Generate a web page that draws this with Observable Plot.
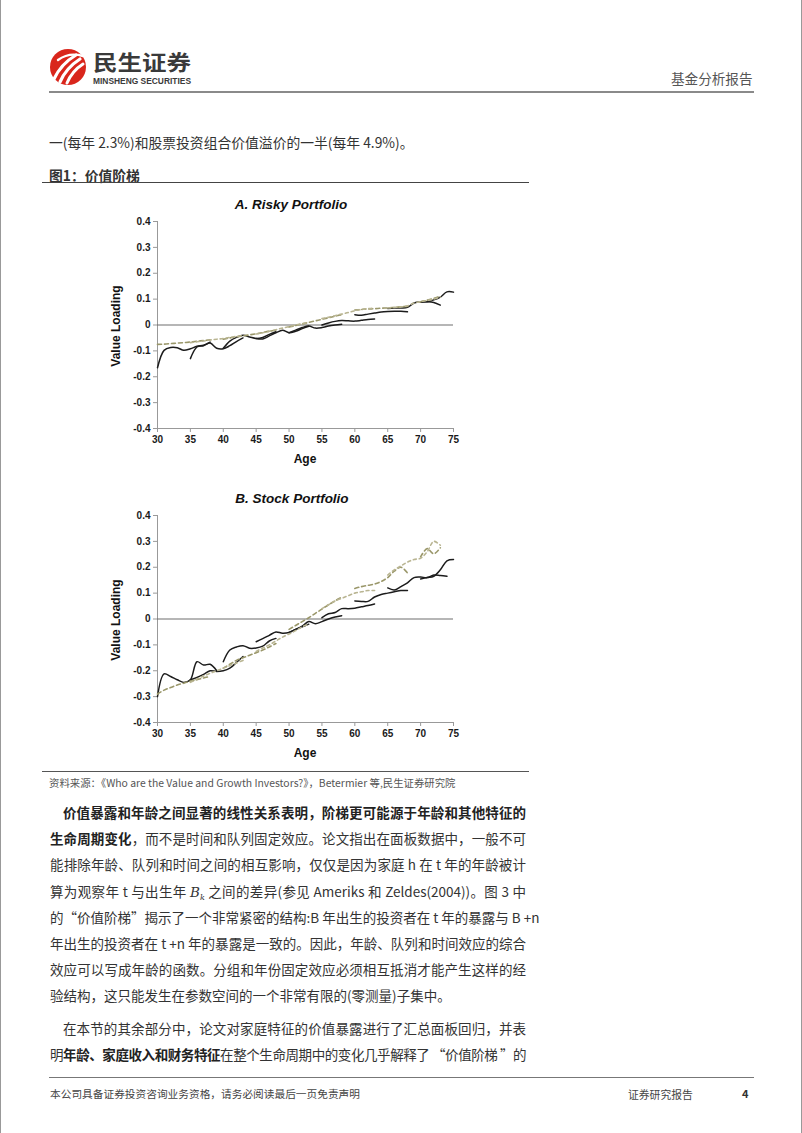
<!DOCTYPE html>
<html><head><meta charset="utf-8">
<script src="https://cdn.jsdelivr.net/npm/d3@7"></script>
<script src="https://cdn.jsdelivr.net/npm/@observablehq/plot@0.6"></script>
<style>
html,body{margin:0;padding:0;background:#fff;}
#page{position:relative;width:802px;height:1133px;overflow:hidden;background:#fff;box-sizing:border-box;border-left:1px solid #999;border-right:1px solid #999;font-family:"Noto Sans CJK SC","Noto Sans",sans-serif;color:#333;}
.abs{position:absolute;white-space:nowrap;}
.hr{position:absolute;height:0;}
.ctitle{position:absolute;font-family:"Liberation Sans",Arial,sans-serif;font-weight:bold;font-style:italic;font-size:13.5px;color:#111;transform:translate(-50%,-50%);white-space:nowrap;}
.xlab{position:absolute;font-family:"Liberation Sans",Arial,sans-serif;font-weight:bold;font-size:12px;color:#111;transform:translate(-50%,-50%);}
.ylab{position:absolute;font-family:"Liberation Sans",Arial,sans-serif;font-weight:bold;font-size:12px;color:#111;transform:translate(-50%,-50%) rotate(-90deg);white-space:nowrap;}
.chart{position:absolute;}
#body{position:absolute;left:49px;top:799px;width:476px;font-size:13.5px;line-height:26.2px;color:#333;}
#body .ln{height:26.2px;text-align:justify;text-align-last:justify;white-space:nowrap;}
#body .last{text-align:left;text-align-last:left;}
#body .ind{text-indent:13px;}
#body .p2{margin-top:6px;}
#body .tight{letter-spacing:-0.6px;}
#body b{font-weight:bold;color:#222;}
.bk{font-family:'DejaVu Serif',serif;font-style:italic;line-height:0;}
.bk sub{font-size:8px;line-height:0;vertical-align:baseline;position:relative;top:3px;}
</style></head>
<body><div id="page">
<!-- header -->
<svg class="abs" style="left:48px;top:46px" width="150" height="44" viewBox="0 0 150 44">
  <circle cx="19" cy="21" r="18" fill="#d9261c"/>
  <path d="M5 33 Q12 18 27 9" stroke="#fff" stroke-width="3.2" fill="none" stroke-linecap="round"/>
  <path d="M11 36 Q17 22 31 13" stroke="#fff" stroke-width="3.2" fill="none" stroke-linecap="round"/>
  <path d="M18 37 Q23 25 34 18" stroke="#fff" stroke-width="3" fill="none" stroke-linecap="round"/>
  <path d="M9 14 Q20 6 34 10" stroke="#fff" stroke-width="2.4" fill="none" stroke-linecap="round"/>
  <text x="44" y="24" font-family="Noto Sans CJK SC" font-weight="bold" font-size="21" fill="#3a3a3a" textLength="98" lengthAdjust="spacingAndGlyphs">民生证券</text>
  <text x="44" y="37.5" font-family="Liberation Sans Narrow, Liberation Sans" font-weight="bold" font-size="8.8" fill="#3a3a3a" textLength="98" lengthAdjust="spacingAndGlyphs">MINSHENG SECURITIES</text>
</svg>
<div class="abs" style="left:670px;top:68px;font-size:13.6px;color:#555;">基金分析报告</div>
<div class="hr" style="left:48px;top:91px;width:705px;border-top:2px solid #8a8a8a;"></div>

<div class="abs" style="left:48px;top:132px;font-size:13.8px;color:#333;">一(每年 2.3%)和股票投资组合价值溢价的一半(每年 4.9%)。</div>
<div class="abs" style="left:48px;top:165px;font-size:13.8px;font-weight:bold;color:#333;">图1：价值阶梯</div>
<div class="hr" style="left:41px;top:182px;width:487px;border-top:1.5px solid #444;"></div>

<div class="ctitle" style="left:290px;top:204px;">A. Risky Portfolio</div>
<div class="ylab" style="left:115px;top:326px;">Value Loading</div>
<div class="xlab" style="left:304px;top:459px;">Age</div>
<div class="chart" id="chartA" style="left:40px;top:210px;"></div>

<div class="ctitle" style="left:291px;top:498px;">B. Stock Portfolio</div>
<div class="ylab" style="left:115px;top:620px;">Value Loading</div>
<div class="xlab" style="left:304px;top:753px;">Age</div>
<div class="chart" id="chartB" style="left:40px;top:504px;"></div>

<div class="hr" style="left:41px;top:771px;width:487px;border-top:1.5px solid #555;"></div>
<div class="abs" style="left:48px;top:775px;font-size:10.4px;color:#555;">资料来源：《Who are the Value and Growth Investors?》，Betermier 等,民生证券研究院</div>

<div id="body">
<div class="ln ind"><b>价值暴露和年龄之间显著的线性关系表明，阶梯更可能源于年龄和其他特征的</b></div>
<div class="ln"><b>生命周期变化</b>，而不是时间和队列固定效应。论文指出在面板数据中，一般不可</div>
<div class="ln">能排除年龄、队列和时间之间的相互影响，仅仅是因为家庭 h 在 t 年的年龄被计</div>
<div class="ln">算为观察年 t 与出生年 <span class="bk">B<sub>k</sub></span> 之间的差异(参见 Ameriks 和 Zeldes(2004))。图 3 中</div>
<div class="ln">的“价值阶梯”揭示了一个非常紧密的结构:B 年出生的投资者在 t 年的暴露与 B +n</div>
<div class="ln">年出生的投资者在 t +n 年的暴露是一致的。因此，年龄、队列和时间效应的综合</div>
<div class="ln">效应可以写成年龄的函数。分组和年份固定效应必须相互抵消才能产生这样的经</div>
<div class="ln last">验结构，这只能发生在参数空间的一个非常有限的(零测量)子集中。</div>
<div class="ln ind p2">在本节的其余部分中，论文对家庭特征的价值暴露进行了汇总面板回归，并表</div>
<div class="ln tight">明<b>年龄、家庭收入和财务特征</b>在整个生命周期中的变化几乎解释了 “价值阶梯 ”的</div>
</div>

<div class="hr" style="left:48px;top:1077px;width:705px;border-top:1.5px solid #777;"></div>
<div class="abs" style="left:49px;top:1086px;font-size:10.7px;color:#444;">本公司具备证券投资咨询业务资格，请务必阅读最后一页免责声明</div>
<div class="abs" style="left:627px;top:1086px;font-size:10.8px;color:#444;">证券研究报告</div>
<div class="abs" style="left:741px;top:1085px;font-size:11px;font-weight:bold;color:#333;">4</div>
</div>

<script>
// ---- data ----
const xTicks = [30, 35, 40, 45, 50, 55, 60, 65, 70, 75];
const yTicks = [-0.4, -0.3, -0.2, -0.1, 0, 0.1, 0.2, 0.3, 0.4];

// Panel A: Risky portfolio — observed cohort paths (start age, yearly values)
const riskyObserved = [
  {start: 30, v: [-0.165, -0.098, -0.087, -0.088, -0.098, -0.092, -0.082, -0.078, -0.066]},
  {start: 35, v: [-0.13, -0.085, -0.08, -0.07, -0.09, -0.092, -0.08, -0.064, -0.05]},
  {start: 40, v: [-0.09, -0.062, -0.048, -0.04, -0.046, -0.052, -0.048, -0.036, -0.026]},
  {start: 45, v: [-0.052, -0.054, -0.042, -0.03, -0.02, -0.03, -0.024, -0.014, -0.005]},
  {start: 50, v: [-0.03, -0.02, -0.01, -0.004, -0.012, -0.01, -0.004, 0.0, 0.003]},
  {start: 55, v: [0.0, 0.008, 0.014, 0.017, 0.016, 0.015, 0.018, 0.021, 0.023]},
  {start: 60, v: [0.04, 0.038, 0.042, 0.046, 0.05, 0.052, 0.053, 0.053, 0.051]},
  {start: 65, v: [0.064, 0.066, 0.066, 0.068, 0.085, 0.09, 0.09, 0.087, 0.077]},
  {start: 70, v: [0.088, 0.09, 0.097, 0.108, 0.128, 0.127]}
];
// Panel A: fitted (dashed) cohort paths
const riskyFitted = [
  {start: 30, v: [-0.075, -0.074, -0.072, -0.07, -0.068, -0.066, -0.063, -0.06, -0.057]},
  {start: 35, v: [-0.068, -0.065, -0.062, -0.058, -0.055, -0.052, -0.048, -0.044, -0.04]},
  {start: 40, v: [-0.055, -0.05, -0.046, -0.042, -0.038, -0.034, -0.029, -0.024, -0.02]},
  {start: 45, v: [-0.035, -0.03, -0.024, -0.018, -0.012, -0.006, 0.0, 0.005, 0.01]},
  {start: 50, v: [-0.008, -0.002, 0.004, 0.01, 0.016, 0.022, 0.028, 0.034, 0.04]},
  {start: 55, v: [0.025, 0.03, 0.036, 0.042, 0.048, 0.055, 0.06, 0.063, 0.065]},
  {start: 60, v: [0.058, 0.06, 0.062, 0.063, 0.065, 0.066, 0.068, 0.07, 0.072]},
  {start: 65, v: [0.066, 0.068, 0.07, 0.074, 0.085, 0.09, 0.095, 0.1, 0.108]},
  {start: 70, v: [0.09, 0.096, 0.103, 0.112]}
];

// Panel B: Stock portfolio — observed cohort paths
const stockObserved = [
  {start: 30, v: [-0.30, -0.212, -0.222, -0.235, -0.245, -0.235, -0.165, -0.178, -0.175, -0.2]},
  {start: 35, v: [-0.235, -0.226, -0.214, -0.2, -0.203, -0.2, -0.19, -0.168, -0.145]},
  {start: 40, v: [-0.165, -0.12, -0.108, -0.103, -0.113, -0.112, -0.105, -0.085, -0.075]},
  {start: 45, v: [-0.088, -0.076, -0.063, -0.05, -0.055, -0.052, -0.04, -0.03, -0.02]},
  {start: 50, v: [-0.052, -0.04, -0.028, -0.01, -0.018, -0.01, 0.0, 0.008, 0.013]},
  {start: 55, v: [0.005, 0.02, 0.025, 0.04, 0.04, 0.042, 0.047, 0.052, 0.058]},
  {start: 60, v: [0.07, 0.068, 0.068, 0.085, 0.095, 0.1, 0.105, 0.11, 0.11]},
  {start: 65, v: [0.12, 0.112, 0.125, 0.14, 0.16, 0.162, 0.16, 0.17, 0.168, 0.165]},
  {start: 70, v: [0.155, 0.16, 0.165, 0.19, 0.225, 0.23]}
];
// Panel B: fitted (dashed) cohort paths
const stockFitted = [
  {start: 30, v: [-0.29, -0.275, -0.265, -0.255, -0.248, -0.24, -0.235, -0.228, -0.222]},
  {start: 35, v: [-0.245, -0.232, -0.22, -0.21, -0.2, -0.19, -0.18, -0.17, -0.16]},
  {start: 40, v: [-0.19, -0.175, -0.16, -0.15, -0.14, -0.13, -0.12, -0.108, -0.095]},
  {start: 45, v: [-0.125, -0.112, -0.1, -0.085, -0.07, -0.058, -0.045, -0.03, -0.02]},
  {start: 50, v: [-0.04, -0.025, -0.01, 0.005, 0.022, 0.038, 0.055, 0.07, 0.085]},
  {start: 55, v: [0.04, 0.055, 0.07, 0.08, 0.09, 0.1, 0.105, 0.11, 0.11]},
  {start: 60, v: [0.118, 0.125, 0.13, 0.135, 0.145, 0.16, 0.185, 0.2, 0.178]},
  {start: 65, v: [0.17, 0.19, 0.205, 0.22, 0.23, 0.235, 0.26, 0.3, 0.285]},
  {start: 70, v: [0.24, 0.272, 0.252, 0.275]}
];

function rows(segs) {
  return segs.flatMap((s, i) => s.v.map((v, j) => ({age: s.start + j, value: v, seg: i})));
}

function chart(observed, fitted) {
  return Plot.plot({
    width: 490, height: 262,
    marginTop: 11, marginBottom: 44, marginLeft: 116, marginRight: 78,
    x: {domain: [30, 75]},
    y: {domain: [-0.4, 0.4]},
    style: {fontFamily: "'Liberation Sans', Arial, sans-serif", fontSize: "10px", fontWeight: "bold", color: "#1a1a1a", background: "transparent", overflow: "visible"},
    marks: [
      Plot.axisX({ticks: xTicks, tickSize: 4, tickPadding: 3, stroke: "#999", fill: "#1a1a1a", label: null, tickFormat: d => String(d)}),
      Plot.axisY({ticks: yTicks, tickSize: 4, tickPadding: 3, stroke: "#999", fill: "#1a1a1a", label: null, tickFormat: d => String(d)}),
      Plot.ruleX([30], {stroke: "#999", strokeWidth: 1}),
      Plot.ruleY([-0.4], {stroke: "#999", strokeWidth: 1}),
      Plot.ruleY([0], {stroke: "#6f6f6f", strokeWidth: 1.2}),
      Plot.line(rows(observed), {x: "age", y: "value", z: "seg", stroke: "#1c1c1c", strokeWidth: 1.5, curve: "catmull-rom"}),
      Plot.line(rows(fitted).filter(d => d.seg % 2 === 0), {x: "age", y: "value", z: "seg", stroke: "#9a976a", strokeWidth: 1.6, strokeDasharray: "4,3", curve: "catmull-rom"}),
      Plot.line(rows(fitted).filter(d => d.seg % 2 === 1), {x: "age", y: "value", z: "seg", stroke: "#b9b592", strokeWidth: 1.6, strokeDasharray: "3,3", curve: "catmull-rom"})
    ]
  });
}

document.getElementById("chartA").appendChild(chart(riskyObserved, riskyFitted));
document.getElementById("chartB").appendChild(chart(stockObserved, stockFitted));
</script>
</body></html>
